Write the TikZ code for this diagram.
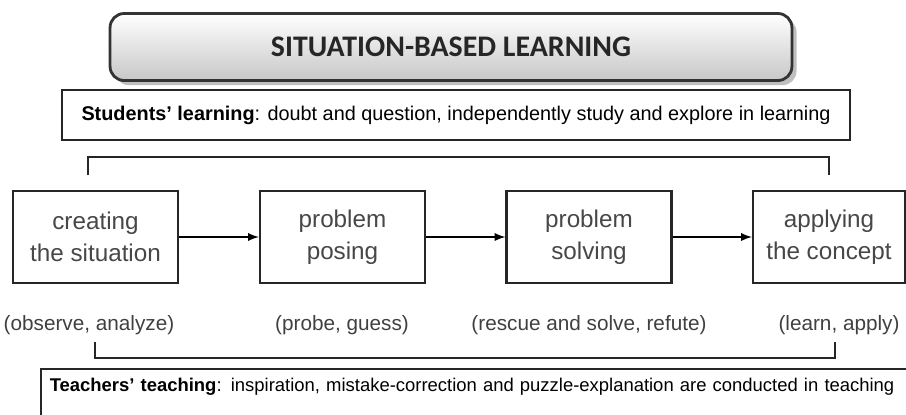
\documentclass[tikz,border=0pt]{standalone}
\usepackage{fontspec}
\setmainfont{Liberation Sans}
\newfontfamily\titlefont{Carlito}
\usetikzlibrary{arrows, positioning, shadows}

\begin{document}
\begin{tikzpicture}[
          x=0.02cm, y=-0.02cm,
          every node/.style={align=center},
          stage/.style={draw=black!85, line width=1.3pt, minimum width=3.3cm,
            minimum height=1.84cm, inner sep=0pt,
            font=\fontsize{13.8}{18.5}\selectfont, text=black!72},
          note/.style={font=\fontsize{11.8}{13}\selectfont, text=black!75},
          role/.style={draw=black!85, line width=1.1pt},
          arrow/.style={-latex, line width=1.1pt},
          bracket/.style={line width=1.3pt, black!85}
        ]
          \clip (0,0) rectangle (906,414);

          % Title bar
          \node[draw=black!80, line width=1.6pt, rounded corners=8pt,
            top color=white, bottom color=black!22, drop shadow,
            minimum width=13.64cm, minimum height=1.34cm] (title) at (451,47)
            {\titlefont\bfseries\fontsize{17}{20}\selectfont\color{black!85}SITUATION-BASED LEARNING};

          % Students on top
          \node[role, minimum width=15.76cm, minimum height=1cm,
            font=\fontsize{11.3}{13}\selectfont] (students) at (456,115)
            {\textbf{Students' learning}: doubt and question, independently study and explore in learning};

          % The four stages
          \node[stage] (create) at (95.5,237) {creating\\the situation};
          \node[stage] (pose) at (342.5,237) {problem\\posing};
          \node[stage] (solve) at (589,237) {problem\\solving};
          \node[stage, minimum width=3.04cm] (apply) at (829,237) {applying\\the concept};

          % Activities under the stages
          \node[note] (observe) at (89,325) {(observe, analyze)};
          \node[note] (probe) at (342,325) {(probe, guess)};
          \node[note] (rescue) at (589,325) {(rescue and solve, refute)};
          \node[note] (learn) at (839,325) {(learn, apply)};

          % Arrows
          \draw[arrow] (create) -- (pose);
          \draw[arrow] (pose) -- (solve);
          \draw[arrow] (solve) -- (apply);

          % Brackets
          \coordinate (tl) at (88,175);
          \coordinate (tr) at (829,175);
          \draw[bracket] (tl) -- (88,157) -- (829,157) -- (tr);
          \coordinate (bl) at (95,342);
          \coordinate (br) at (835,342);
          \draw[bracket] (bl) -- (95,358) -- (835,358) -- (br);

          % Teachers at the bottom
          \node[role, anchor=north west, text width=17.7cm, align=left,
            inner xsep=5pt, inner ysep=5pt, font=\fontsize{10.5}{12.5}\selectfont]
            (teachers) at (40,368)
            {\textbf{Teachers' teaching}: inspiration, mistake-correction and puzzle-explanation are conducted in teaching\\ ~};
        \end{tikzpicture}
\end{document}
